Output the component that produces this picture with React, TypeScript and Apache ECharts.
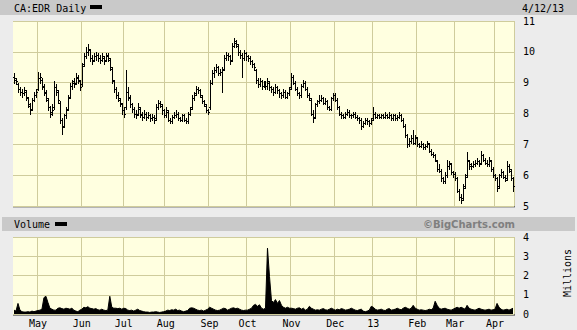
import React, { useEffect, useRef } from "react";
import * as echarts from "echarts";

// ---- categories: TSX trading days 2012-04-13 .. 2013-04-12 ----
const START = [2012, 3, 13];
const END = [2013, 3, 12];
const HOLIDAYS = [
  "2012-05-21", "2012-07-02", "2012-08-06", "2012-09-03", "2012-10-08",
  "2012-12-25", "2012-12-26", "2013-01-01", "2013-02-18", "2013-03-29",
];
const MONTH_LABELS = ["13", "Feb", "Mar", "Apr", "May", "Jun", "Jul", "Aug", "Sep", "Oct", "Nov", "Dec"];
const PRICE_TICKS = [5, 6, 7, 8, 9, 10, 11];
const VOLUME_TICKS = [0, 1, 2, 3, 4];

// ---- daily bars [open, high, low, close] (CAD) ----
const apr12 = [
  [9.2, 9.3, 9.0, 9.15], [9.1, 9.15, 8.95, 9.05], [8.95, 9.0, 8.7, 8.8], [8.8, 8.85, 8.6, 8.7],
  [8.7, 8.8, 8.55, 8.65], [8.65, 8.85, 8.6, 8.75], [8.7, 8.75, 8.45, 8.55], [8.5, 8.55, 8.2, 8.3],
  [8.25, 8.35, 8.0, 8.1], [8.15, 8.5, 8.1, 8.45], [8.45, 8.7, 8.4, 8.6], [8.6, 8.8, 8.55, 8.7],
];
const may12 = [
  [8.8, 9.35, 8.75, 9.15], [9.15, 9.3, 9.0, 9.2], [9.1, 9.15, 8.8, 8.9], [8.85, 8.95, 8.6, 8.7],
  [8.65, 8.75, 8.4, 8.5], [8.45, 8.5, 8.1, 8.2], [8.2, 8.25, 7.9, 8.0], [8.05, 8.3, 7.95, 8.1],
  [8.2, 9.05, 8.15, 8.85], [8.85, 8.95, 8.6, 8.75], [8.7, 8.75, 8.35, 8.45], [8.35, 8.4, 7.7, 7.8],
  [7.8, 7.85, 7.35, 7.55], [7.6, 8.0, 7.55, 7.95], [7.95, 8.2, 7.85, 8.1], [8.15, 8.6, 8.1, 8.5],
  [8.55, 9.0, 8.5, 8.9], [8.9, 9.1, 8.8, 9.05], [9.0, 9.15, 8.85, 8.95], [9.0, 9.3, 8.95, 9.2],
  [9.15, 9.25, 9.0, 9.1], [9.05, 9.1, 8.75, 8.85],
];
const jun12 = [
  [8.95, 9.65, 8.9, 9.55], [9.6, 9.95, 9.55, 9.85], [9.85, 10.15, 9.8, 10.0], [10.0, 10.25, 9.9, 10.1],
  [10.05, 10.1, 9.7, 9.8], [9.8, 9.9, 9.6, 9.7], [9.75, 9.95, 9.7, 9.85], [9.85, 10.0, 9.75, 9.9],
  [9.9, 9.95, 9.7, 9.8], [9.8, 9.9, 9.65, 9.75], [9.75, 9.95, 9.7, 9.85], [9.8, 9.85, 9.6, 9.7],
  [9.75, 9.95, 9.7, 9.9], [9.85, 9.95, 9.7, 9.8], [9.75, 9.8, 9.4, 9.5], [9.45, 9.5, 9.0, 9.1],
  [9.05, 9.1, 8.7, 8.8], [8.8, 8.85, 8.5, 8.6], [8.6, 8.7, 8.4, 8.5], [8.45, 8.5, 8.25, 8.35],
  [8.3, 8.35, 8.0, 8.1],
];
const jul12 = [
  [8.1, 8.2, 7.9, 8.0], [8.2, 9.4, 8.15, 8.7], [8.7, 8.85, 8.45, 8.55], [8.5, 8.6, 8.2, 8.3],
  [8.3, 8.35, 8.05, 8.15], [8.15, 8.2, 7.9, 8.0], [8.0, 8.1, 7.85, 7.95], [8.0, 8.35, 7.95, 8.2],
  [8.15, 8.2, 7.9, 8.0], [7.95, 8.05, 7.8, 7.9], [7.9, 8.1, 7.85, 8.0], [8.0, 8.05, 7.8, 7.9],
  [7.9, 8.05, 7.85, 7.95], [7.95, 8.0, 7.75, 7.85], [7.85, 8.0, 7.8, 7.9], [7.9, 7.95, 7.7, 7.8],
  [7.85, 8.3, 7.8, 8.2], [8.2, 8.45, 8.15, 8.35], [8.35, 8.4, 8.2, 8.3], [8.25, 8.3, 8.0, 8.1],
  [8.1, 8.15, 7.9, 7.95],
];
const aug12 = [
  [7.95, 8.2, 7.9, 8.1], [8.05, 8.1, 7.75, 7.8], [7.8, 7.85, 7.7, 7.75], [7.75, 7.95, 7.7, 7.9],
  [7.9, 8.05, 7.85, 7.95], [7.95, 8.1, 7.9, 8.0], [8.0, 8.05, 7.8, 7.85], [7.85, 7.9, 7.75, 7.8],
  [7.8, 8.0, 7.75, 7.95], [7.95, 8.0, 7.75, 7.8], [7.8, 7.85, 7.7, 7.75], [7.75, 8.05, 7.7, 8.0],
  [8.0, 8.2, 7.95, 8.15], [8.2, 8.6, 8.15, 8.5], [8.5, 8.7, 8.45, 8.6], [8.65, 8.9, 8.6, 8.8],
  [8.8, 8.85, 8.65, 8.75], [8.75, 8.8, 8.55, 8.6], [8.55, 8.6, 8.35, 8.4], [8.4, 8.45, 8.25, 8.3],
  [8.25, 8.3, 8.05, 8.1], [8.1, 8.15, 8.0, 8.05],
];
const sep12 = [
  [8.2, 9.1, 8.15, 9.0], [9.0, 9.4, 8.95, 9.3], [9.3, 9.5, 9.2, 9.4], [9.4, 9.6, 9.35, 9.5],
  [9.5, 9.55, 9.25, 9.3], [9.3, 9.45, 9.25, 9.35], [9.35, 9.5, 8.7, 9.4], [9.45, 9.9, 9.4, 9.8],
  [9.8, 10.0, 9.75, 9.9], [9.9, 9.95, 9.75, 9.85], [9.85, 9.9, 9.6, 9.7], [9.75, 10.3, 9.7, 10.2],
  [10.2, 10.45, 10.15, 10.35], [10.3, 10.4, 10.15, 10.25], [10.2, 10.25, 9.9, 10.0], [10.0, 10.05, 9.8, 9.9],
  [9.9, 9.95, 9.2, 9.8], [9.8, 10.05, 9.75, 9.95], [9.95, 10.0, 9.75, 9.85],
];
const oct12 = [
  [9.85, 9.9, 9.7, 9.8], [9.8, 9.85, 9.6, 9.7], [9.7, 9.75, 9.5, 9.6], [9.6, 9.65, 9.4, 9.5],
  [9.4, 9.45, 9.0, 9.1], [9.1, 9.15, 8.85, 8.95], [8.95, 9.15, 8.9, 9.05], [9.05, 9.1, 8.8, 8.9],
  [8.9, 9.05, 8.85, 9.0], [9.0, 9.05, 8.8, 8.9], [8.9, 9.15, 8.8, 9.05], [9.0, 9.05, 8.75, 8.85],
  [8.85, 8.9, 8.7, 8.8], [8.8, 8.85, 8.6, 8.7], [8.7, 8.95, 8.65, 8.85], [8.85, 8.9, 8.65, 8.75],
  [8.75, 8.8, 8.55, 8.65], [8.65, 8.7, 8.5, 8.6], [8.6, 8.8, 8.55, 8.7], [8.7, 8.75, 8.5, 8.55],
  [8.55, 8.7, 8.5, 8.65], [8.65, 8.85, 8.6, 8.8],
];
const nov12 = [
  [8.85, 9.3, 8.8, 9.2], [9.2, 9.25, 8.95, 9.0], [9.0, 9.05, 8.75, 8.8], [8.8, 8.85, 8.6, 8.65],
  [8.65, 8.7, 8.5, 8.6], [8.6, 8.95, 8.55, 8.9], [8.9, 9.1, 8.85, 9.0], [9.0, 9.05, 8.75, 8.8],
  [8.8, 8.85, 8.55, 8.6], [8.6, 8.65, 8.45, 8.5], [8.45, 8.5, 7.95, 8.0], [8.0, 8.1, 7.72, 7.85],
  [7.9, 8.35, 7.85, 8.3], [8.3, 8.45, 8.25, 8.4], [8.4, 8.6, 8.35, 8.45], [8.45, 8.6, 8.4, 8.5],
  [8.5, 8.55, 8.3, 8.35], [8.35, 8.5, 8.3, 8.4], [8.4, 8.45, 8.15, 8.2], [8.2, 8.25, 8.1, 8.15],
  [8.15, 8.55, 8.1, 8.5], [8.5, 8.65, 8.45, 8.6],
];
const dec12 = [
  [8.6, 8.65, 8.4, 8.45], [8.45, 8.5, 8.15, 8.2], [8.2, 8.25, 7.95, 8.0], [8.0, 8.05, 7.85, 7.95],
  [7.95, 8.0, 7.85, 7.9], [7.9, 8.05, 7.85, 8.0], [8.0, 8.15, 7.95, 8.05], [8.05, 8.1, 7.9, 7.95],
  [7.95, 8.0, 7.85, 7.95], [7.95, 8.05, 7.9, 8.0], [8.0, 8.05, 7.85, 7.9], [7.9, 7.95, 7.8, 7.85],
  [7.85, 7.9, 7.7, 7.8], [7.8, 7.85, 7.5, 7.6], [7.6, 7.75, 7.55, 7.7], [7.7, 7.85, 7.65, 7.8],
  [7.8, 7.85, 7.65, 7.75], [7.75, 7.8, 7.6, 7.7], [7.7, 7.85, 7.65, 7.8],
];
const jan13 = [
  [7.85, 8.2, 7.8, 8.0], [8.0, 8.05, 7.85, 7.9], [7.9, 8.0, 7.85, 7.95], [7.95, 8.0, 7.85, 7.9],
  [7.9, 8.0, 7.85, 7.95], [7.95, 8.0, 7.85, 7.9], [7.9, 8.05, 7.85, 7.95], [7.95, 8.0, 7.85, 7.9],
  [7.9, 8.05, 7.85, 7.95], [7.95, 8.0, 7.8, 7.85], [7.85, 8.0, 7.8, 7.95], [7.95, 8.0, 7.8, 7.85],
  [7.85, 7.95, 7.8, 7.9], [7.9, 8.05, 7.85, 7.95], [7.95, 8.0, 7.75, 7.8], [7.8, 7.85, 7.55, 7.6],
  [7.6, 7.65, 7.25, 7.3], [7.3, 7.35, 6.9, 7.0], [7.0, 7.2, 6.95, 7.1], [7.1, 7.3, 7.05, 7.2],
  [7.2, 7.45, 7.0, 7.05], [7.05, 7.3, 7.0, 7.25],
];
const feb13 = [
  [7.2, 7.25, 6.95, 7.0], [7.0, 7.05, 6.9, 6.95], [6.95, 7.1, 6.9, 7.0], [7.0, 7.05, 6.85, 6.9],
  [6.9, 7.0, 6.85, 6.95], [6.95, 7.1, 6.9, 7.05], [7.0, 7.05, 6.75, 6.8], [6.8, 6.85, 6.65, 6.7],
  [6.7, 6.75, 6.6, 6.65], [6.65, 6.7, 6.45, 6.5], [6.45, 6.5, 6.15, 6.2], [6.2, 6.35, 6.1, 6.15],
  [6.15, 6.2, 5.8, 5.9], [5.9, 5.95, 5.75, 5.8], [5.8, 6.1, 5.75, 6.0], [6.0, 6.5, 5.95, 6.3],
  [6.3, 6.45, 6.2, 6.4], [6.35, 6.4, 6.05, 6.1], [6.1, 6.15, 5.95, 6.05],
];
const mar13 = [
  [6.05, 6.1, 5.85, 5.9], [5.9, 5.95, 5.45, 5.5], [5.5, 5.55, 5.2, 5.3], [5.3, 5.4, 5.1, 5.2],
  [5.25, 5.7, 5.2, 5.6], [5.65, 6.05, 5.6, 5.95], [6.0, 6.75, 5.95, 6.5], [6.45, 6.5, 6.2, 6.35],
  [6.3, 6.4, 6.2, 6.3], [6.3, 6.45, 6.25, 6.35], [6.35, 6.5, 6.3, 6.4], [6.4, 6.55, 6.35, 6.45],
  [6.45, 6.5, 6.3, 6.35], [6.4, 6.8, 6.35, 6.65], [6.65, 6.7, 6.45, 6.5], [6.5, 6.55, 6.35, 6.4],
  [6.4, 6.5, 6.3, 6.35], [6.35, 6.6, 6.3, 6.5], [6.45, 6.5, 6.15, 6.2], [6.2, 6.25, 5.95, 6.0],
];
const apr13 = [
  [6.0, 6.05, 5.85, 5.9], [5.9, 5.95, 5.5, 5.6], [5.65, 6.05, 5.6, 6.0], [6.0, 6.2, 5.95, 6.1],
  [6.1, 6.15, 5.9, 5.95], [5.95, 6.0, 5.8, 5.85], [5.9, 6.45, 5.85, 6.3], [6.3, 6.35, 6.1, 6.2],
  [6.15, 6.2, 5.85, 5.9], [5.9, 5.95, 5.5, 5.65],
];

// ---- daily volume, millions of shares ----
const volApr12 = [0.2, 0.15, 0.55, 0.2, 0.12, 0.1, 0.1, 0.12, 0.1, 0.15, 0.12, 0.15];
const volMay12 = [0.18, 0.2, 0.25, 0.85, 0.92, 0.6, 0.3, 0.25, 0.2, 0.2, 0.3, 0.32, 0.28, 0.25, 0.3, 0.28, 0.25, 0.3, 0.2, 0.15, 0.12, 0.2];
const volJun12 = [0.25, 0.35, 0.32, 0.38, 0.3, 0.28, 0.25, 0.28, 0.22, 0.2, 0.25, 0.2, 0.18, 0.2, 0.92, 0.35, 0.3, 0.3, 0.28, 0.3, 0.25];
const volJul12 = [0.3, 0.28, 0.2, 0.18, 0.2, 0.15, 0.2, 0.25, 0.18, 0.15, 0.12, 0.1, 0.1, 0.08, 0.1, 0.1, 0.12, 0.1, 0.08, 0.1, 0.12];
const volAug12 = [0.15, 0.2, 0.18, 0.22, 0.2, 0.25, 0.18, 0.2, 0.15, 0.12, 0.15, 0.18, 0.3, 0.32, 0.3, 0.25, 0.2, 0.18, 0.2, 0.15, 0.2, 0.25];
const volSep12 = [0.35, 0.3, 0.25, 0.2, 0.18, 0.2, 0.25, 0.3, 0.28, 0.2, 0.25, 0.3, 0.32, 0.28, 0.3, 0.25, 0.2, 0.18, 0.2];
const volOct12 = [0.2, 0.25, 0.3, 0.45, 0.5, 0.4, 0.48, 0.3, 0.25, 0.3, 3.42, 1.95, 0.7, 0.6, 0.75, 0.55, 0.7, 0.45, 0.35, 0.3, 0.35, 0.3];
const volNov12 = [0.3, 0.28, 0.25, 0.3, 0.32, 0.25, 0.3, 0.2, 0.25, 0.4, 0.3, 0.25, 0.2, 0.22, 0.2, 0.25, 0.28, 0.22, 0.2, 0.25, 0.3, 0.25];
const volDec12 = [0.2, 0.25, 0.22, 0.28, 0.25, 0.2, 0.22, 0.25, 0.3, 0.25, 0.2, 0.18, 0.22, 0.25, 0.15, 0.12, 0.15, 0.2, 0.4];
const volJan13 = [0.35, 0.25, 0.2, 0.22, 0.25, 0.2, 0.18, 0.25, 0.28, 0.2, 0.22, 0.25, 0.3, 0.25, 0.22, 0.3, 0.35, 0.3, 0.25, 0.3, 0.45, 0.3];
const volFeb13 = [0.25, 0.2, 0.22, 0.2, 0.18, 0.2, 0.25, 0.22, 0.3, 0.66, 0.45, 0.3, 0.25, 0.28, 0.3, 0.25, 0.22, 0.2, 0.25];
const volMar13 = [0.3, 0.35, 0.3, 0.35, 0.3, 0.25, 0.45, 0.3, 0.25, 0.22, 0.2, 0.25, 0.3, 0.25, 0.22, 0.2, 0.22, 0.25, 0.2, 0.22];
const volApr13 = [0.25, 0.55, 0.35, 0.25, 0.2, 0.22, 0.25, 0.2, 0.25, 0.3];

const ohlc = [
  ...apr12, ...may12, ...jun12, ...jul12, ...aug12, ...sep12,
  ...oct12, ...nov12, ...dec12, ...jan13, ...feb13, ...mar13, ...apr13,
];
const volume = [
  ...volApr12, ...volMay12, ...volJun12, ...volJul12, ...volAug12, ...volSep12,
  ...volOct12, ...volNov12, ...volDec12, ...volJan13, ...volFeb13, ...volMar13, ...volApr13,
];

function tradingDays(): string[] {
  const out: string[] = [];
  let t = Date.UTC(START[0], START[1], START[2]);
  const end = Date.UTC(END[0], END[1], END[2]);
  while (t <= end) {
    const d = new Date(t);
    const dow = d.getUTCDay();
    const s = d.toISOString().slice(0, 10);
    if (dow !== 0 && dow !== 6 && !HOLIDAYS.includes(s)) out.push(s);
    t += 86400000;
  }
  return out;
}

const dates = tradingDays();
const isMonthStart = dates.map((d, i) => i > 0 && d.slice(5, 7) !== dates[i - 1].slice(5, 7));

const MONO = "'DejaVu Sans Mono', monospace";
const GRIDC = "#cfcc9c";
const PLOT_BG = "#ffffe0";
const PAGE_BG = "#ececec";
const BAR_BG = "#c9c9c9";

export default function App() {
  const ref = useRef<HTMLDivElement>(null);
  useEffect(() => {
    if (!ref.current) return;
    const chart = echarts.init(ref.current, undefined, { renderer: "svg" });
    const ohlcData = ohlc.map((b, i) => [i, b[0], b[1], b[2], b[3]]);
    const L = 13, R = 514, PT = 21, PB = 206, VT = 237, VB = 314;

    const option: any = {
      animation: false,
      backgroundColor: PAGE_BG,
      grid: [
        { left: L, top: PT, width: R - L, height: PB - PT, show: true, backgroundColor: PLOT_BG, borderWidth: 0 },
        { left: L, top: VT, width: R - L, height: VB - VT, show: true, backgroundColor: PLOT_BG, borderWidth: 0 },
      ],
      xAxis: [
        {
          type: "category", gridIndex: 0, data: dates, boundaryGap: true,
          axisLine: { show: false }, axisTick: { show: false }, axisLabel: { show: false },
          splitLine: { show: true, interval: (i: number) => isMonthStart[i], lineStyle: { color: GRIDC, width: 1 } },
        },
        {
          type: "category", gridIndex: 1, data: dates, boundaryGap: true,
          axisLine: { show: false }, axisTick: { show: false },
          axisLabel: {
            show: true, interval: (i: number) => isMonthStart[i],
            formatter: (v: string) => MONTH_LABELS[parseInt(v.slice(5, 7), 10) - 1],
            fontFamily: MONO, fontSize: 10, color: "#000", margin: 4,
          },
          splitLine: { show: true, interval: (i: number) => isMonthStart[i], lineStyle: { color: GRIDC, width: 1 } },
        },
      ],
      yAxis: [
        {
          type: "value", gridIndex: 0, position: "right", min: PRICE_TICKS[0], max: PRICE_TICKS[PRICE_TICKS.length - 1], interval: 1,
          axisLine: { show: false }, axisTick: { show: false },
          axisLabel: { margin: 9, fontFamily: MONO, fontSize: 10, color: "#000" },
          splitLine: { show: true, lineStyle: { color: GRIDC, width: 1 } },
        },
        {
          type: "value", gridIndex: 1, position: "right", min: VOLUME_TICKS[0], max: VOLUME_TICKS[VOLUME_TICKS.length - 1], interval: 1,
          axisLine: { show: false }, axisTick: { show: false },
          axisLabel: { margin: 9, fontFamily: MONO, fontSize: 10, color: "#000" },
          splitLine: { show: true, lineStyle: { color: GRIDC, width: 1 } },
        },
      ],
      series: [
        {
          type: "custom", xAxisIndex: 0, yAxisIndex: 0, data: ohlcData,
          encode: { x: 0, y: [1, 2, 3, 4] },
          renderItem: (params: any, api: any) => {
            const i = api.value(0);
            const pH = api.coord([i, api.value(2)]);
            const pL = api.coord([i, api.value(3)]);
            const pO = api.coord([i, api.value(1)]);
            const pC = api.coord([i, api.value(4)]);
            const x = Math.round(pH[0]) + 0.5;
            const yo = Math.round(pO[1]) + 0.5;
            const yc = Math.round(pC[1]) + 0.5;
            const st = { stroke: "#000", lineWidth: 1 };
            return {
              type: "group",
              children: [
                { type: "line", shape: { x1: x, y1: Math.round(pH[1]), x2: x, y2: Math.round(pL[1]) + 1 }, style: st },
                { type: "line", shape: { x1: x - 1.5, y1: yo, x2: x, y2: yo }, style: st },
                { type: "line", shape: { x1: x, y1: yc, x2: x + 1.5, y2: yc }, style: st },
              ],
            };
          },
        },
        {
          type: "line", xAxisIndex: 1, yAxisIndex: 1, data: volume,
          symbol: "none", lineStyle: { color: "#000", width: 1 },
          areaStyle: { color: "#000", opacity: 1 },
        },
      ],
      graphic: [
        { type: "rect", shape: { x: 0, y: 0, width: 577, height: 15 }, style: { fill: BAR_BG } },
        { type: "text", x: 14, y: 8, style: { text: "CA:EDR Daily", fontFamily: MONO, fontSize: 10, fill: "#000", verticalAlign: "middle" } },
        { type: "rect", shape: { x: 90, y: 5, width: 12, height: 4 }, style: { fill: "#000" } },
        { type: "text", x: 522, y: 8, style: { text: "4/12/13", fontFamily: MONO, fontSize: 10, fill: "#000", verticalAlign: "middle" } },
        { type: "rect", shape: { x: 2, y: 217, width: 573, height: 14 }, style: { fill: BAR_BG } },
        { type: "text", x: 14, y: 224, style: { text: "Volume", fontFamily: MONO, fontSize: 10, fill: "#000", verticalAlign: "middle" } },
        { type: "rect", shape: { x: 55, y: 222, width: 12, height: 4 }, style: { fill: "#000" } },
        { type: "text", x: 515, y: 224, style: { text: "©BigCharts.com", fontFamily: "'DejaVu Sans', sans-serif", fontWeight: "bold", fontSize: 10, fill: "#7f7f7f", align: "right", verticalAlign: "middle" } },
        { type: "text", x: 567, y: 273, rotation: Math.PI / 2, style: { text: "Millions", fontFamily: MONO, fontSize: 10, fill: "#000", align: "center", verticalAlign: "middle" } },
        // plot frames
        { type: "line", shape: { x1: L, y1: PB + 0.5, x2: R + 1, y2: PB + 0.5 }, style: { stroke: "#6e6e6e", lineWidth: 1 } },
        { type: "line", shape: { x1: L, y1: PB + 1.5, x2: R + 1, y2: PB + 1.5 }, style: { stroke: "#b4b4b4", lineWidth: 1 } },
        { type: "line", shape: { x1: R + 0.5, y1: PT, x2: R + 0.5, y2: PB + 1 }, style: { stroke: "#6e6e6e", lineWidth: 1 } },
        { type: "line", shape: { x1: L, y1: VB + 0.5, x2: R + 1, y2: VB + 0.5 }, style: { stroke: "#333", lineWidth: 1 } },
        { type: "line", shape: { x1: L, y1: VB + 1.5, x2: R + 1, y2: VB + 1.5 }, style: { stroke: "#8a8a8a", lineWidth: 1 } },
        { type: "line", shape: { x1: R + 0.5, y1: VT, x2: R + 0.5, y2: VB + 1 }, style: { stroke: "#6e6e6e", lineWidth: 1 } },
      ],
    };
    chart.setOption(option);
    return () => chart.dispose();
  }, []);
  return <div ref={ref} style={{ width: 577, height: 330, position: "absolute", left: 0, top: 0 }} />;
}
